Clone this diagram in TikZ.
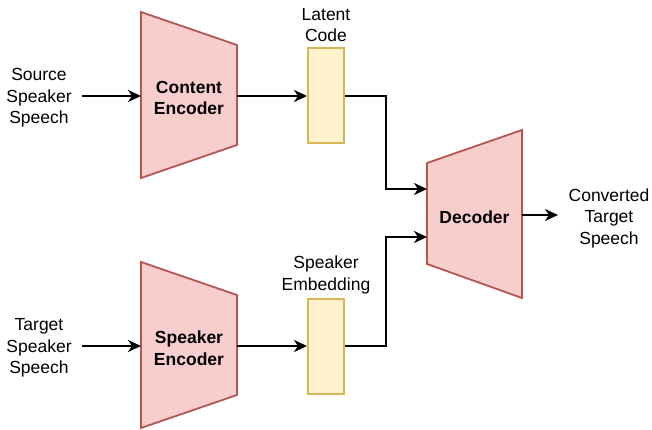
\documentclass[tikz,border=0pt]{standalone}
\usepackage{fontspec}
\setmainfont{Liberation Sans}
\usetikzlibrary{arrows.meta,calc}
\definecolor{encfill}{HTML}{F8CECC}
\definecolor{encdraw}{HTML}{B85450}
\definecolor{codefill}{HTML}{FFF2CC}
\definecolor{codedraw}{HTML}{D6B656}

\begin{document}
\begin{tikzpicture}[x=1pt,y=-1pt,
  txt/.style={align=center, inner sep=0pt, font=\fontsize{17.5}{21.5}\selectfont},
  btxt/.style={align=center, inner sep=0pt, font=\fontsize{17.5}{21.5}\selectfont\bfseries},
  enc/.style={draw=encdraw, fill=encfill, line width=1.8pt, line join=miter},
  codebox/.style={draw=codedraw, fill=codefill, line width=2pt,
    minimum width=36pt, minimum height=95pt, inner sep=0pt},
  link/.style={line width=2.4pt, -{Stealth[length=13pt,width=12pt,inset=4pt]}}]
\useasboundingbox (0,0) rectangle (652,430);

% encoder / decoder bodies
\draw[enc] (141,12) -- (237,45) -- (237,145) -- (141,178) -- cycle;
\draw[enc] (141,262) -- (237,295) -- (237,395) -- (141,428) -- cycle;
\draw[enc] (427,163) -- (522,130) -- (522,298) -- (427,264) -- cycle;

\node[btxt] (cenc) at (189,98) {Content\\Encoder};
\node[btxt] (senc) at (189,348) {Speaker\\Encoder};
\node[btxt] (dec) at (474.5,217) {Decoder};

% ports on the trapezoid edges
\coordinate (cencin) at (141,96);
\coordinate (cencout) at (237,96);
\coordinate (sencin) at (141,346);
\coordinate (sencout) at (237,346);
\coordinate (decin1) at (427,189);
\coordinate (decin2) at (427,237);
\coordinate (decout) at (522,215);

% latent code and speaker embedding
\node[codebox] (lc) at (326,96) {};
\node[codebox] (se) at (326,346) {};
\node[txt] (lclabel) at (326,25) {Latent\\Code};
\node[txt] (selabel) at (326,275) {Speaker\\Embedding};

% inputs and output
\node[txt] (src) at (39,98) {Source\\Speaker\\Speech};
\node[txt] (tgt) at (39,348) {Target\\Speaker\\Speech};
\node[txt] (out) at (609,218) {Converted\\Target\\Speech};
\coordinate (srcout) at (82,96);
\coordinate (tgtout) at (82,346);
\coordinate (outin) at (558,215);

% connectors
\draw[link] (srcout) -- (cencin);
\draw[link] (tgtout) -- (sencin);
\draw[link] (cencout) -- (lc.west);
\draw[link] (sencout) -- (se.west);
\draw[link] (lc.east) -| ($(lc.east)!.5!(decin1)$) |- (decin1);
\draw[link] (se.east) -| ($(se.east)!.5!(decin2)$) |- (decin2);
\draw[link] (decout) -- (outin);
\end{tikzpicture}
\end{document}
